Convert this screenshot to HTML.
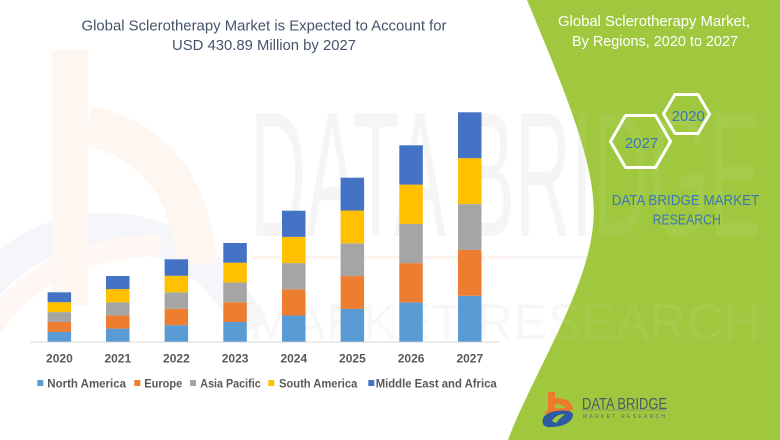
<!DOCTYPE html>
<html><head><meta charset="utf-8"><style>
html,body{margin:0;padding:0;background:#fff;}
svg{display:block;font-family:"Liberation Sans",sans-serif;}
</style></head><body>
<svg width="780" height="440" viewBox="0 0 780 440" xmlns="http://www.w3.org/2000/svg">
<defs>
<clipPath id="whiteArea"><path d="M0,0 L527,0 C560,80 600,170 593,225 C588,290 530,380 508,440 L0,440 Z"/></clipPath>
<clipPath id="greenArea"><path d="M527,0 C560,80 600,170 593,225 C588,290 530,380 508,440 L780,440 L780,0 Z"/></clipPath>
</defs>
<rect width="780" height="440" fill="#ffffff"/>
<!-- faint left logo watermark -->
<g clip-path="url(#whiteArea)">
<path d="M-40,440 A150,150 0 0 1 250,330" fill="none" stroke="#f4f6fa" stroke-width="34"/>
<path d="M-10,330 Q40,250 160,245" fill="none" stroke="#fef7f3" stroke-width="22"/>
<rect x="52" y="50" width="36" height="255" fill="#fef6f1"/>
<path d="M88,125 Q190,150 196,265" fill="none" stroke="#fef6f1" stroke-width="40"/>
<text x="250" y="236" font-size="178" fill="#f5f5f5" textLength="511" lengthAdjust="spacingAndGlyphs">DATA BRIDGE</text>
<rect x="250" y="256" width="260" height="3" fill="#fef5f0"/>
<rect x="510" y="256" width="250" height="3" fill="#f5f6f9"/>
<text x="250" y="339" font-size="50" fill="#f7f7f7" textLength="510" lengthAdjust="spacing">MARKET RESEARCH</text>
</g>
<!-- green panel -->
<path d="M527,0 C560,80 600,170 593,225 C588,290 530,380 508,440 L780,440 L780,0 Z" fill="#9fc83f"/>
<g clip-path="url(#greenArea)" opacity="0.05">
<text x="250" y="236" font-size="178" fill="#ffffff" textLength="511" lengthAdjust="spacingAndGlyphs">DATA BRIDGE</text>
<text x="250" y="339" font-size="50" fill="#ffffff" textLength="510" lengthAdjust="spacing">MARKET RESEARCH</text>
</g>
<!-- main title -->
<text x="264" y="30.5" font-size="15" fill="#44546a" text-anchor="middle" textLength="365" lengthAdjust="spacingAndGlyphs">Global Sclerotherapy Market is Expected to Account for</text>
<text x="264" y="50" font-size="15" fill="#44546a" text-anchor="middle" textLength="184" lengthAdjust="spacingAndGlyphs">USD 430.89 Million by 2027</text>
<!-- axis -->
<line x1="30" y1="342" x2="500" y2="342" stroke="#d9d9d9" stroke-width="1"/>
<!-- bars -->
<g>
<!-- 2020 -->
<rect x="47.6" y="331.8" width="23.5" height="9.9" fill="#5b9bd5"/>
<rect x="47.6" y="322" width="23.5" height="9.9" fill="#ed7d31"/>
<rect x="47.6" y="312.1" width="23.5" height="9.9" fill="#a5a5a5"/>
<rect x="47.6" y="302.2" width="23.5" height="9.9" fill="#ffc000"/>
<rect x="47.6" y="292.3" width="23.5" height="9.9" fill="#4472c4"/>
<!-- 2021 -->
<rect x="106" y="328.6" width="23.5" height="13.1" fill="#5b9bd5"/>
<rect x="106" y="315.4" width="23.5" height="13.2" fill="#ed7d31"/>
<rect x="106" y="302.3" width="23.5" height="13.1" fill="#a5a5a5"/>
<rect x="106" y="289.1" width="23.5" height="13.2" fill="#ffc000"/>
<rect x="106" y="276" width="23.5" height="13.1" fill="#4472c4"/>
<!-- 2022 -->
<rect x="164.6" y="325.2" width="23.5" height="16.5" fill="#5b9bd5"/>
<rect x="164.6" y="308.7" width="23.5" height="16.5" fill="#ed7d31"/>
<rect x="164.6" y="292.3" width="23.5" height="16.4" fill="#a5a5a5"/>
<rect x="164.6" y="275.8" width="23.5" height="16.5" fill="#ffc000"/>
<rect x="164.6" y="259.3" width="23.5" height="16.5" fill="#4472c4"/>
<!-- 2023 -->
<rect x="223.3" y="322" width="23.5" height="19.7" fill="#5b9bd5"/>
<rect x="223.3" y="302.2" width="23.5" height="19.8" fill="#ed7d31"/>
<rect x="223.3" y="282.5" width="23.5" height="19.7" fill="#a5a5a5"/>
<rect x="223.3" y="262.7" width="23.5" height="19.8" fill="#ffc000"/>
<rect x="223.3" y="243" width="23.5" height="19.7" fill="#4472c4"/>
<!-- 2024 -->
<rect x="282" y="315.5" width="23.5" height="26.2" fill="#5b9bd5"/>
<rect x="282" y="289.3" width="23.5" height="26.2" fill="#ed7d31"/>
<rect x="282" y="263.1" width="23.5" height="26.2" fill="#a5a5a5"/>
<rect x="282" y="236.9" width="23.5" height="26.2" fill="#ffc000"/>
<rect x="282" y="210.7" width="23.5" height="26.2" fill="#4472c4"/>
<!-- 2025 -->
<rect x="340.6" y="308.9" width="23.5" height="32.8" fill="#5b9bd5"/>
<rect x="340.6" y="276.1" width="23.5" height="32.8" fill="#ed7d31"/>
<rect x="340.6" y="243.3" width="23.5" height="32.8" fill="#a5a5a5"/>
<rect x="340.6" y="210.5" width="23.5" height="32.8" fill="#ffc000"/>
<rect x="340.6" y="177.7" width="23.5" height="32.8" fill="#4472c4"/>
<!-- 2026 -->
<rect x="399.3" y="302.4" width="23.5" height="39.3" fill="#5b9bd5"/>
<rect x="399.3" y="263.1" width="23.5" height="39.3" fill="#ed7d31"/>
<rect x="399.3" y="223.9" width="23.5" height="39.2" fill="#a5a5a5"/>
<rect x="399.3" y="184.6" width="23.5" height="39.3" fill="#ffc000"/>
<rect x="399.3" y="145.3" width="23.5" height="39.3" fill="#4472c4"/>
<!-- 2027 -->
<rect x="458" y="295.8" width="23.5" height="45.9" fill="#5b9bd5"/>
<rect x="458" y="249.9" width="23.5" height="45.9" fill="#ed7d31"/>
<rect x="458" y="204.1" width="23.5" height="45.8" fill="#a5a5a5"/>
<rect x="458" y="158.2" width="23.5" height="45.9" fill="#ffc000"/>
<rect x="458" y="112.3" width="23.5" height="45.9" fill="#4472c4"/>
</g>
<!-- year labels -->
<g font-size="12" font-weight="bold" fill="#595959" text-anchor="middle">
<text x="59.4" y="362.5">2020</text>
<text x="117.8" y="362.5">2021</text>
<text x="176.4" y="362.5">2022</text>
<text x="235.1" y="362.5">2023</text>
<text x="293.8" y="362.5">2024</text>
<text x="352.4" y="362.5">2025</text>
<text x="411.1" y="362.5">2026</text>
<text x="469.8" y="362.5">2027</text>
</g>
<!-- legend -->
<g font-size="12" font-weight="bold" fill="#595959">
<rect x="37.3" y="380" width="6" height="6" fill="#5b9bd5"/>
<text x="47.3" y="387.5" textLength="78.7" lengthAdjust="spacingAndGlyphs">North America</text>
<rect x="134.3" y="380" width="6" height="6" fill="#ed7d31"/>
<text x="144.3" y="387.5" textLength="38" lengthAdjust="spacingAndGlyphs">Europe</text>
<rect x="190" y="380" width="6" height="6" fill="#a5a5a5"/>
<text x="200.3" y="387.5" textLength="60.4" lengthAdjust="spacingAndGlyphs">Asia Pacific</text>
<rect x="268.3" y="380" width="6" height="6" fill="#ffc000"/>
<text x="279" y="387.5" textLength="78.3" lengthAdjust="spacingAndGlyphs">South America</text>
<rect x="368.3" y="380" width="6" height="6" fill="#4472c4"/>
<text x="375.7" y="387.5" textLength="121" lengthAdjust="spacingAndGlyphs">Middle East and Africa</text>
</g>
<!-- right panel title -->
<g font-size="15" fill="#ffffff" text-anchor="middle">
<text x="654" y="26" textLength="192" lengthAdjust="spacingAndGlyphs">Global Sclerotherapy Market,</text>
<text x="655" y="46" textLength="166" lengthAdjust="spacingAndGlyphs">By Regions, 2020 to 2027</text>
</g>
<!-- hexagons -->
<g fill="none" stroke="#ffffff" stroke-width="3" stroke-linejoin="round">
<polygon points="610.5,141.5 625.5,115.5 655.5,115.5 670.5,141.5 655.5,167.5 625.5,167.5"/>
<polygon points="663.5,114 675,94.5 698,94.5 709.5,114 698,133.5 675,133.5"/>
</g>
<g font-size="15" fill="#3a78b6" text-anchor="middle">
<text x="641.5" y="148" textLength="33.5" lengthAdjust="spacingAndGlyphs">2027</text>
<text x="688.3" y="121" textLength="33" lengthAdjust="spacingAndGlyphs">2020</text>
<text x="685.5" y="205" textLength="147.6" lengthAdjust="spacingAndGlyphs">DATA BRIDGE MARKET</text>
<text x="686.8" y="224.5" textLength="68.3" lengthAdjust="spacingAndGlyphs">RESEARCH</text>
</g>
<!-- bottom right logo -->
<g>
<rect x="548" y="392" width="7" height="22" fill="#f07a2c"/>
<path d="M555,398 Q572,398 573,409 L566,410 Q565,404 555,404 Z" fill="#f07a2c"/>
<path d="M544,413 Q552,406 574,409 L566,412 Q552,411 547,414 Z" fill="#f07a2c"/>
<path d="M543,424 Q540,414 556,411 Q574,409 573,416 Q570,426 552,427 Q545,428 543,424 Z" fill="#2d5aa0"/>
<path d="M552,421 Q556,414 565,414 Q560,418 556,423 Z" fill="#9fc83f"/>
<text x="582" y="409" font-size="16" fill="#4c5868" textLength="85" lengthAdjust="spacingAndGlyphs">DATA BRIDGE</text>
<line x1="582" y1="410" x2="667" y2="410" stroke="#7d8a6a" stroke-width="0.8"/>
<text x="583" y="418" font-size="5" fill="#5a6570" textLength="82" lengthAdjust="spacing">MARKET RESEARCH</text>
</g>
</svg>
</body></html>
